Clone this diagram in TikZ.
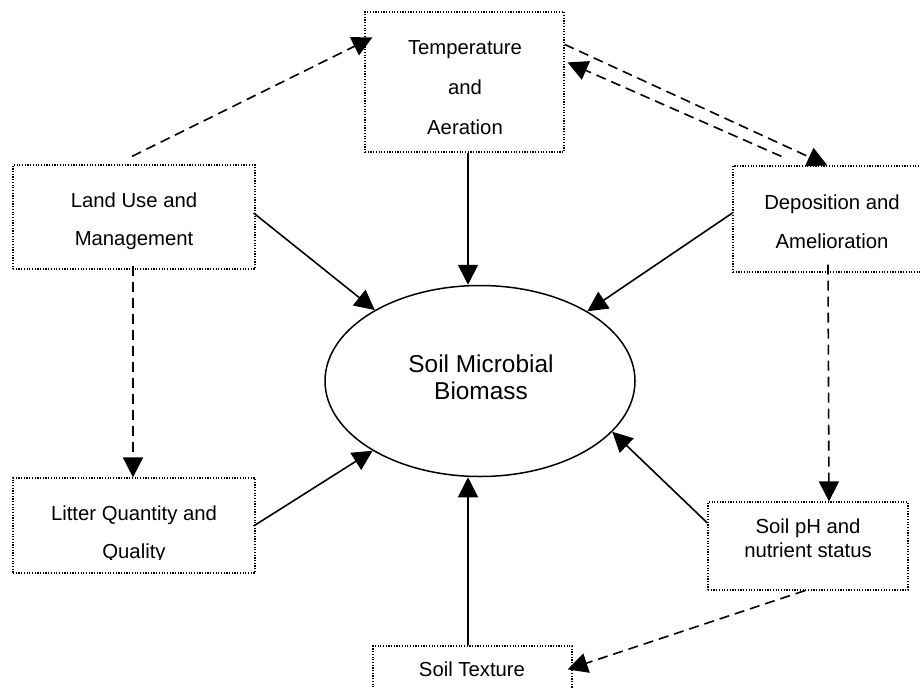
\documentclass[tikz,border=0pt]{standalone}
\usepackage{fontspec}
\setmainfont{Liberation Sans}
\usetikzlibrary{shapes.geometric,arrows.meta,calc}
\begin{document}
\begin{tikzpicture}[x=1pt,y=-1pt,
  box/.style={draw, rectangle, line width=1.2pt, dash pattern=on 1.2pt off 1.5pt, inner sep=0pt},
  lbl/.style={font=\fontsize{20.3}{#1}\selectfont, align=center, inner sep=0pt},
  lbl/.default=38,
  solidarrow/.style={line width=1.6pt, -{Triangle[length=20pt,width=20pt]}},
  dasharrow/.style={solidarrow, dash pattern=on 10pt off 6pt},
]
\useasboundingbox (0,0) rectangle (920,688);
\fill[white] (0,0) rectangle (920,688);
\clip (0,0) rectangle (920,688);

% boxes
\node[box, minimum width=199pt, minimum height=140pt] (temp) at (464.5,82) {};
\node[box, minimum width=242pt, minimum height=104pt] (land) at (134,217) {};
\node[box, minimum width=198pt, minimum height=106pt] (dep) at (832,219) {};
\node[box, minimum width=242pt, minimum height=95pt] (litter) at (134,525.5) {};
\node[box, minimum width=200pt, minimum height=88pt] (ph) at (808,546) {};
\node[box, minimum width=199pt, minimum height=64pt] (tex) at (472.5,678) {};

% ellipse
\node[ellipse, draw, line width=1.5pt, minimum width=310pt, minimum height=191pt, inner sep=0pt] (bio) at (480,381) {};

% texts
\node[lbl=40] (temp-t) at (465,88) {Temperature\\and\\Aeration};
\node[lbl=38] (land-t) at (134,221) {Land Use and\\Management};
\node[lbl=39] (dep-t) at (832,221.5) {Deposition and\\Amelioration};
\begin{scope}
  \clip (litter.north west) rectangle ($(litter.south east)+(0,-14)$);
  \node[lbl=38] (litter-t) at (134,534) {Litter Quantity and\\Quality};
\end{scope}
\node[lbl=24] (ph-t) at (808,538) {Soil pH and\\nutrient status};
\node[lbl] (tex-t) at (472,669) {Soil Texture};
\node[font=\fontsize{24.4}{27}\selectfont, align=center, inner sep=0pt] (bio-t) at (481,377) {Soil Microbial\\Biomass};

% coordinates
\coordinate (tA) at ($(temp.south)+(3.5,0)$);
\coordinate (xA) at ($(tex.north)+(-4.5,0)$);

% solid connectors
\draw[solidarrow] (tA) -- (tA |- bio.north);
\draw[solidarrow] (xA) -- (xA |- bio.south);
\draw[solidarrow] ($(land.east)+(-2,-4)$) -- (bio.146.1);
\draw[solidarrow] ($(dep.west)+(0,-6)$) -- (bio.33.7);
\draw[solidarrow] ($(litter.east)+(-2,0.5)$) -- (bio.213.9);
\draw[solidarrow] ($(ph.west)+(0,-23)$) -- (bio.339.8);

% dashed connectors
\draw[dasharrow] ($(land.north)+(-2,-8)$) -- ($(temp.north west)+(8,26)$);
\draw[dasharrow] ($(temp.north east)+(0,33)$) -- ($(dep.north west)+(95,0)$);
\draw[dasharrow] ($(dep.north west)+(49,-9)$) -- ($(temp.north east)+(3,51)$);
\draw[dasharrow] ($(land.south)+(-1,-4)$) -- ($(litter.north)+(-1,0)$);
\draw[dasharrow] ($(dep.south)+(-4,-8)$) -- ($(ph.north)+(21,0)$);
\draw[dasharrow] ($(ph.south)+(-3,0)$) -- ($(tex.north east)+(-5,24)$);
\end{tikzpicture}
\end{document}
